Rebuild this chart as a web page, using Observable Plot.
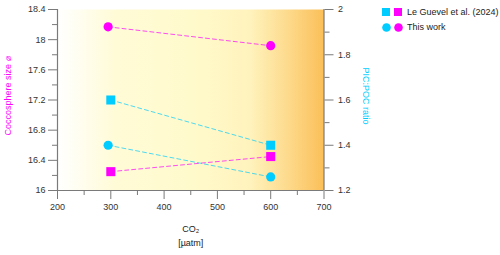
<!DOCTYPE html>
<html>
<head>
<meta charset="utf-8">
<script src="https://cdn.jsdelivr.net/npm/d3@7"></script>
<script src="https://cdn.jsdelivr.net/npm/@observablehq/plot@0.6"></script>
<style>
  body { margin: 0; background: #fff; font-family: "Liberation Sans", Arial, sans-serif; }
  #wrap { position: relative; width: 500px; height: 255px; }
  #legend { position: absolute; left: 382px; top: 4.5px; font-size: 9px; color: #222; white-space: nowrap; }
  .row { display: flex; align-items: center; height: 15px; }
</style>
</head>
<body>
<div id="wrap"></div>
<script>
// ---- data ----
const co2ThisWork = [295, 600];
const co2LeGuevel = [300, 600];
const sizeThisWork = [18.17, 17.92];
const ratioThisWork = [1.40, 1.26];
const sizeLeGuevel = [16.25, 16.45];
const ratioLeGuevel = [1.60, 1.40];

const xMajor = [200, 300, 400, 500, 600, 700];
const xMinor = [250, 350, 450, 550, 650];
const yMajor = [16, 16.4, 16.8, 17.2, 17.6, 18, 18.4];
const yMinor = [16.2, 16.6, 17.0, 17.4, 17.8, 18.2];
const rMajor = [1.2, 1.4, 1.6, 1.8, 2.0];
const rMinor = [1.3, 1.5, 1.7, 1.9];

const MAGENTA = "#ff00ff";
const CYAN = "#00ccff";
const AXIS = "#7a7a7a";

// ratio (right axis, 1.2..2) mapped onto size scale (16..18.4)
const r2s = r => 16 + (r - 1.2) * 3;

const mk = (xs, ys, f = v => v) => xs.map((x, i) => ({x, y: f(ys[i])}));
const twSize = mk(co2ThisWork, sizeThisWork);
const twRatio = mk(co2ThisWork, ratioThisWork, r2s);
const lgSize = mk(co2LeGuevel, sizeLeGuevel);
const lgRatio = mk(co2LeGuevel, ratioLeGuevel, r2s);

const dash = "4,3";

const svg = Plot.plot({
  width: 500, height: 255,
  marginLeft: 57, marginRight: 176.5, marginTop: 9, marginBottom: 65,
  style: {fontSize: "9px", fontFamily: "Liberation Sans, Arial, sans-serif", color: "#333", background: "white"},
  x: {domain: [200, 700]},
  y: {domain: [16, 18.4]},
  marks: [
    Plot.frame({fill: "url(#bg)", stroke: null}),
    Plot.ruleX([200, 700], {stroke: AXIS, strokeWidth: 1.2}),
    Plot.ruleY([16], {stroke: AXIS, strokeWidth: 1.2}),
    Plot.axisX({ticks: xMajor, tickSize: 9, tickPadding: 4, stroke: AXIS, fill: "#333", label: null, tickFormat: d => String(d)}),
    Plot.axisX({ticks: xMinor, tickSize: 5, stroke: AXIS, tickFormat: () => "", label: null}),
    Plot.axisY({ticks: yMajor, tickSize: 9, tickPadding: 3, stroke: AXIS, fill: "#333", label: null, tickFormat: d => String(+d.toFixed(1))}),
    Plot.axisY({ticks: yMinor, tickSize: 5, stroke: AXIS, tickFormat: () => "", label: null}),
    Plot.axisY({anchor: "right", ticks: rMajor.map(r2s), tickSize: 9, tickPadding: 5, stroke: AXIS, fill: "#333", label: null,
      tickFormat: d => String(+(1.2 + (d - 16) / 3).toFixed(1))}),
    Plot.axisY({anchor: "right", ticks: rMinor.map(r2s), tickSize: 5, stroke: AXIS, tickFormat: () => "", label: null}),
    // dashed connectors
    Plot.line(twSize, {x: "x", y: "y", stroke: MAGENTA, strokeOpacity: 0.7, strokeWidth: 1, strokeDasharray: dash}),
    Plot.line(lgSize, {x: "x", y: "y", stroke: MAGENTA, strokeOpacity: 0.7, strokeWidth: 1, strokeDasharray: dash}),
    Plot.line(twRatio, {x: "x", y: "y", stroke: CYAN, strokeOpacity: 0.7, strokeWidth: 1, strokeDasharray: dash}),
    Plot.line(lgRatio, {x: "x", y: "y", stroke: CYAN, strokeOpacity: 0.7, strokeWidth: 1, strokeDasharray: dash}),
    // markers
    Plot.dot(twSize, {x: "x", y: "y", r: 4.6, symbol: "circle", fill: MAGENTA}),
    Plot.dot(twRatio, {x: "x", y: "y", r: 4.6, symbol: "circle", fill: CYAN}),
    Plot.dot(lgSize, {x: "x", y: "y", r: 5.1, symbol: "square", fill: MAGENTA}),
    Plot.dot(lgRatio, {x: "x", y: "y", r: 5.1, symbol: "square", fill: CYAN}),
    // axis titles
    Plot.text(["Coccosphere size ⌀"], {frameAnchor: "left", textAnchor: "middle", dx: -49, dy: -4, rotate: -90, fill: MAGENTA, fontSize: 9}),
    Plot.text(["PIC:POC ratio"], {frameAnchor: "right", textAnchor: "middle", dx: 42, dy: -4, rotate: 90, fill: CYAN, fontSize: 9}),
    Plot.text(["CO₂"], {frameAnchor: "bottom", dy: 41, fill: "#222", fontSize: 9}),
    Plot.text(["[µatm]"], {frameAnchor: "bottom", dy: 55, fill: "#222", fontSize: 9})
  ]
});

// gradient definition for the background
const defs = d3.select(svg).insert("defs", ":first-child");
const g = defs.append("linearGradient").attr("id", "bg").attr("x1", 0).attr("x2", 1).attr("y1", 0).attr("y2", 0);
[[0, "#ffffff"], [0.22, "#fffbd6"], [0.5, "#fffacc"], [0.72, "#fff3bd"], [0.86, "#fddb8e"], [1, "#fbbf58"]]
  .forEach(([o, c]) => g.append("stop").attr("offset", o).attr("stop-color", c));

const wrap = document.getElementById("wrap");
wrap.appendChild(svg);

// legend
const legend = document.createElement("div");
legend.id = "legend";
const sym = (shape, color) => shape === "square"
  ? `<svg width="8" height="8" style="margin-right:4px"><rect width="8" height="8" fill="${color}"/></svg>`
  : `<svg width="9" height="9" style="margin-right:3px"><circle cx="4.5" cy="4.5" r="4.3" fill="${color}"/></svg>`;
const entries = [["square", "Le Guevel et al. (2024)"], ["circle", "This work"]];
legend.innerHTML = entries.map(([s, t]) =>
  `<div class="row">${sym(s, CYAN)}${sym(s, MAGENTA)}<span style="margin-left:1px">${t}</span></div>`).join("");
wrap.appendChild(legend);
</script>
</body>
</html>
